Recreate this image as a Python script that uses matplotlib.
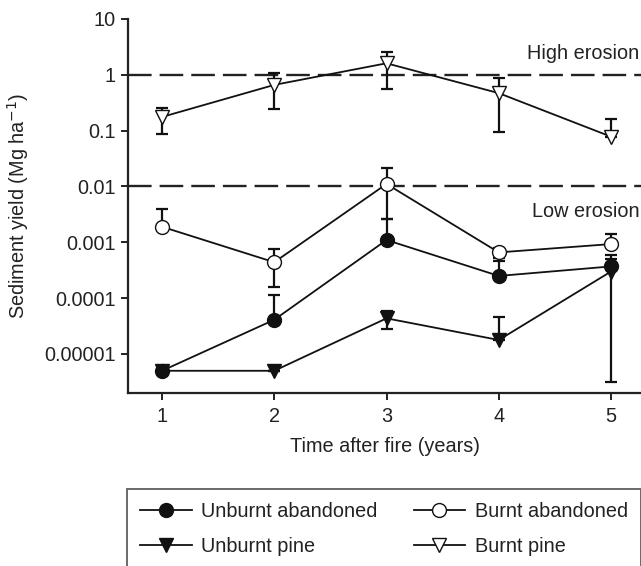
import matplotlib
matplotlib.use("Agg")
import matplotlib.pyplot as plt
from matplotlib.lines import Line2D
import numpy as np

plt.rcParams['font.family'] = ['Liberation Sans', 'DejaVu Sans']

years = [1, 2, 3, 4, 5]
tick_values = [1e-5, 1e-4, 1e-3, 1e-2, 1e-1, 1, 10]
tick_labels = ['0.00001', '0.0001', '0.001', '0.01', '0.1', '1', '10']

# series values (Mg/ha) and error bar ends
unburnt_aband = [5.0e-6, 4.1e-5, 1.1e-3, 2.5e-4, 3.7e-4]
unburnt_aband_lo = [5.0e-6, 4.1e-5, 1.0e-3, 2.5e-4, 3.7e-4]
unburnt_aband_hi = [5.0e-6, 1.14e-4, 2.6e-3, 4.7e-4, 5.9e-4]

unburnt_pine = [5.0e-6, 5.0e-6, 4.35e-5, 1.78e-5, 3.0e-4]
unburnt_pine_lo = [5.0e-6, 5.0e-6, 2.77e-5, 1.78e-5, 3.2e-6]
unburnt_pine_hi = [5.0e-6, 5.0e-6, 6.0e-5, 4.66e-5, 5.0e-4]

burnt_aband = [1.9e-3, 4.4e-4, 1.11e-2, 6.6e-4, 9.3e-4]
burnt_aband_lo = [1.9e-3, 1.56e-4, 2.6e-3, 5.2e-4, 9.3e-4]
burnt_aband_hi = [3.9e-3, 7.5e-4, 2.1e-2, 7.8e-4, 1.39e-3]

burnt_pine = [0.176, 0.66, 1.61, 0.47, 0.078]
burnt_pine_lo = [0.087, 0.24, 0.55, 0.093, 0.078]
burnt_pine_hi = [0.258, 1.09, 2.53, 0.89, 0.16]

thresholds = [1, 0.01]
threshold_labels = ['High erosion', 'Low erosion']
threshold_label_y = [2.46, 0.0035]

FS = 14.3
INK = '#222222'

fig = plt.figure(figsize=(6.41, 5.66), dpi=100)
ax = fig.add_axes([128/641, 1-393/566, 513/641, (393-19)/566])

for yv in thresholds:
    ax.axhline(yv, color=INK, lw=1.7, dashes=(10, 3.4), zorder=1)

def draw(vals, lo, hi, marker, face, label):
    v = np.array(vals); l = np.array(lo); h = np.array(hi)
    ax.errorbar(years, v, yerr=[v - l, h - v], fmt='none', ecolor='#111111',
                elinewidth=1.6, capsize=4, capthick=1.6, zorder=2)
    ax.plot(years, v, color='#111111', lw=1.3, marker=marker, ms=10,
            mfc=face, mec='#111111', mew=1.0, zorder=3, label=label)

draw(unburnt_aband, unburnt_aband_lo, unburnt_aband_hi, 'o', '#111111', 'Unburnt abandoned')
draw(unburnt_pine, unburnt_pine_lo, unburnt_pine_hi, 'v', '#111111', 'Unburnt pine')
draw(burnt_aband, burnt_aband_lo, burnt_aband_hi, 'o', 'white', 'Burnt abandoned')
draw(burnt_pine, burnt_pine_lo, burnt_pine_hi, 'v', 'white', 'Burnt pine')

for yv, txt in zip(threshold_label_y, threshold_labels):
    ax.text(0.997, yv, txt, transform=ax.get_yaxis_transform(), ha='right',
            va='center', fontsize=FS, color=INK)

ax.set_yscale('log')
ax.set_ylim(2e-6, 10)
ax.set_xlim(0.697, 5.267)
ax.set_yticks(tick_values)
ax.set_yticklabels(tick_labels)
ax.yaxis.set_minor_locator(matplotlib.ticker.NullLocator())
ax.set_xticks(years)
ax.set_xticklabels([str(y) for y in years])
ax.tick_params(axis='both', labelsize=FS, length=5, width=1.4, colors=INK)
ax.tick_params(axis='x', pad=5)
ax.tick_params(axis='y', pad=4)
for s in ['top', 'right']:
    ax.spines[s].set_visible(False)
for s in ['left', 'bottom']:
    ax.spines[s].set_linewidth(1.6)
    ax.spines[s].set_color(INK)
ax.set_xlabel('Time after fire (years)', fontsize=FS, color=INK, labelpad=8)
ax.set_ylabel('Sediment yield (Mg ha$^{-1}$)', fontsize=FS, color=INK)
ax.yaxis.set_label_coords(-0.19, 0.5)

handles = [
    Line2D([], [], color='#111111', lw=1.3, marker='o', ms=10, mfc='#111111', mec='#111111'),
    Line2D([], [], color='#111111', lw=1.3, marker='v', ms=10, mfc='#111111', mec='#111111'),
    Line2D([], [], color='#111111', lw=1.3, marker='o', ms=10, mfc='white', mec='#111111'),
    Line2D([], [], color='#111111', lw=1.3, marker='v', ms=10, mfc='white', mec='#111111'),
]
labels = ['Unburnt abandoned', 'Unburnt pine', 'Burnt abandoned', 'Burnt pine']
leg = fig.legend(handles, labels, ncol=2, loc='upper left',
                 bbox_to_anchor=(127/641, 1-489/566), fontsize=FS,
                 frameon=True, fancybox=False, edgecolor='#444444',
                 handlelength=2.6, handletextpad=0.5, columnspacing=1.8,
                 borderpad=0.65, labelspacing=0.8, borderaxespad=0)
leg.get_frame().set_linewidth(1.4)
for t in leg.get_texts():
    t.set_color(INK)

fig.savefig('out.png', dpi=100)
